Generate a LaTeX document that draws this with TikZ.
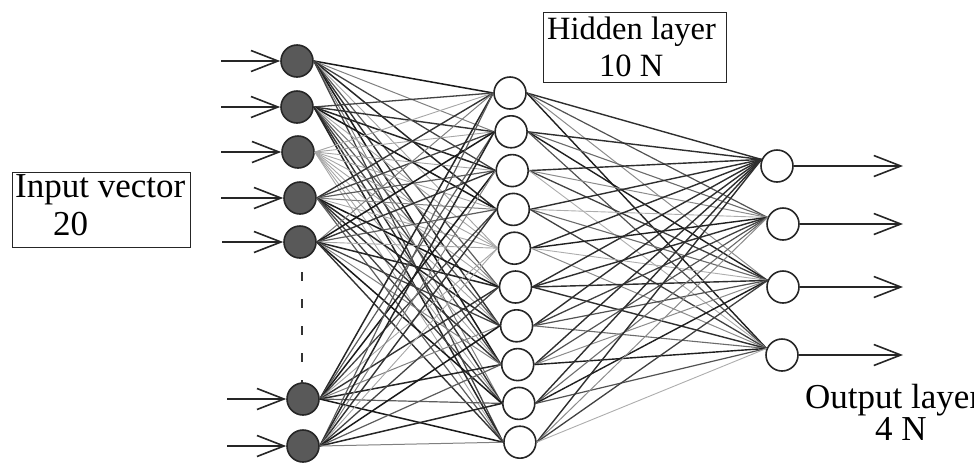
\documentclass[tikz,border=0pt]{standalone}
\usepackage{fontspec}
\setmainfont{Liberation Serif}
\usetikzlibrary{arrows.meta}
\begin{document}
\begin{tikzpicture}[x=1pt,y=-1pt,
  inneuron/.style={circle,draw=black!85,fill=black!65,line width=1.6pt,minimum size=32pt,inner sep=0pt},
  hidneuron/.style={circle,draw=black!85,fill=white,line width=1.6pt,minimum size=32pt,inner sep=0pt},
  signal/.style={draw=black!85,line width=1.6pt,-{Straight Barb[length=27pt,width=21pt,line width=1.6pt]}},
  labelbox/.style={draw=black!85,line width=1.4pt},
  lbl/.style={inner sep=0pt,anchor=base west,font=\fontsize{35}{40}\selectfont},
  hlbl/.style={inner sep=0pt,anchor=base west,font=\fontsize{32.5}{38}\selectfont}
]
\useasboundingbox (0,0) rectangle (974,464);

% input layer
\foreach \n/\x/\y/\s in {1/297/61/221,2/297/107/221,3/298/152/221,4/300/198/221,5/300/242/222,6/303/399/227,7/303/446/227}{
  \node[inneuron] (in\n) at (\x,\y) {};
  \coordinate (src\n) at (\s,\y);
  \draw[signal] (src\n) -- (in\n.west);
}
\coordinate (gapA) at (302,272);
\coordinate (gapB) at (302,384);
\draw[black!80,line width=1.5pt,dash pattern=on 9pt off 18pt] (gapA) -- (gapB);

% hidden layer
\foreach \j in {1,...,10}{
  \node[hidneuron] (hid\j) at ({510+1.1*(\j-1)},{93+38.8*(\j-1)}) {};
}

% output layer
\foreach \k/\x/\y in {1/777/166,2/783/224,3/783/287,4/782/355}{
  \node[hidneuron] (out\k) at (\x,\y) {};
  \coordinate (dst\k) at (903,\y);
  \draw[signal] (out\k.east) -- (dst\k);
}

% input -> hidden weights
\foreach \i in {1,...,7}{
  \foreach \j in {1,...,10}{
    \pgfmathtruncatemacro\s{mod(\i*37+\j*11+\i*\j,7)}
    \pgfmathsetmacro\g{{"90","85","80","74","64","50","35"}[\s]}
    \pgfmathsetmacro\w{{"1.5","1.5","1.4","1.3","1.2","1.0","0.9"}[\s]}
    \draw[black!\g,line width=\w pt] (in\i.east) -- (hid\j.west);
  }
}

% hidden -> output weights
\foreach \j in {1,...,10}{
  \foreach \k in {1,...,4}{
    \pgfmathtruncatemacro\s{mod(\j*13+\k*29+\j*\k,7)}
    \pgfmathsetmacro\g{{"88","82","75","68","58","45","32"}[\s]}
    \pgfmathsetmacro\w{{"1.4","1.4","1.3","1.2","1.1","1.0","0.9"}[\s]}
    \draw[black!\g,line width=\w pt] (hid\j.east) -- (out\k.157);
  }
}

% labels
\node[labelbox,minimum width=178pt,minimum height=75pt,inner sep=0pt,anchor=north west] (inbox) at (12,172) {};
\node[lbl] (intext) at (15,197) {Input vector};
\node[lbl] (innum) at (53,235) {20};

\node[labelbox,minimum width=183pt,minimum height=70pt,inner sep=0pt,anchor=north west] (hidbox) at (543,12) {};
\node[hlbl] (hidtext) at (547,39) {Hidden layer};
\node[hlbl] (hidnum) at (599,76) {10 N};

\node[lbl] (outtext) at (805,408) {Output layer};
\node[lbl] (outnum) at (875,440) {4 N};
\end{tikzpicture}
\end{document}
